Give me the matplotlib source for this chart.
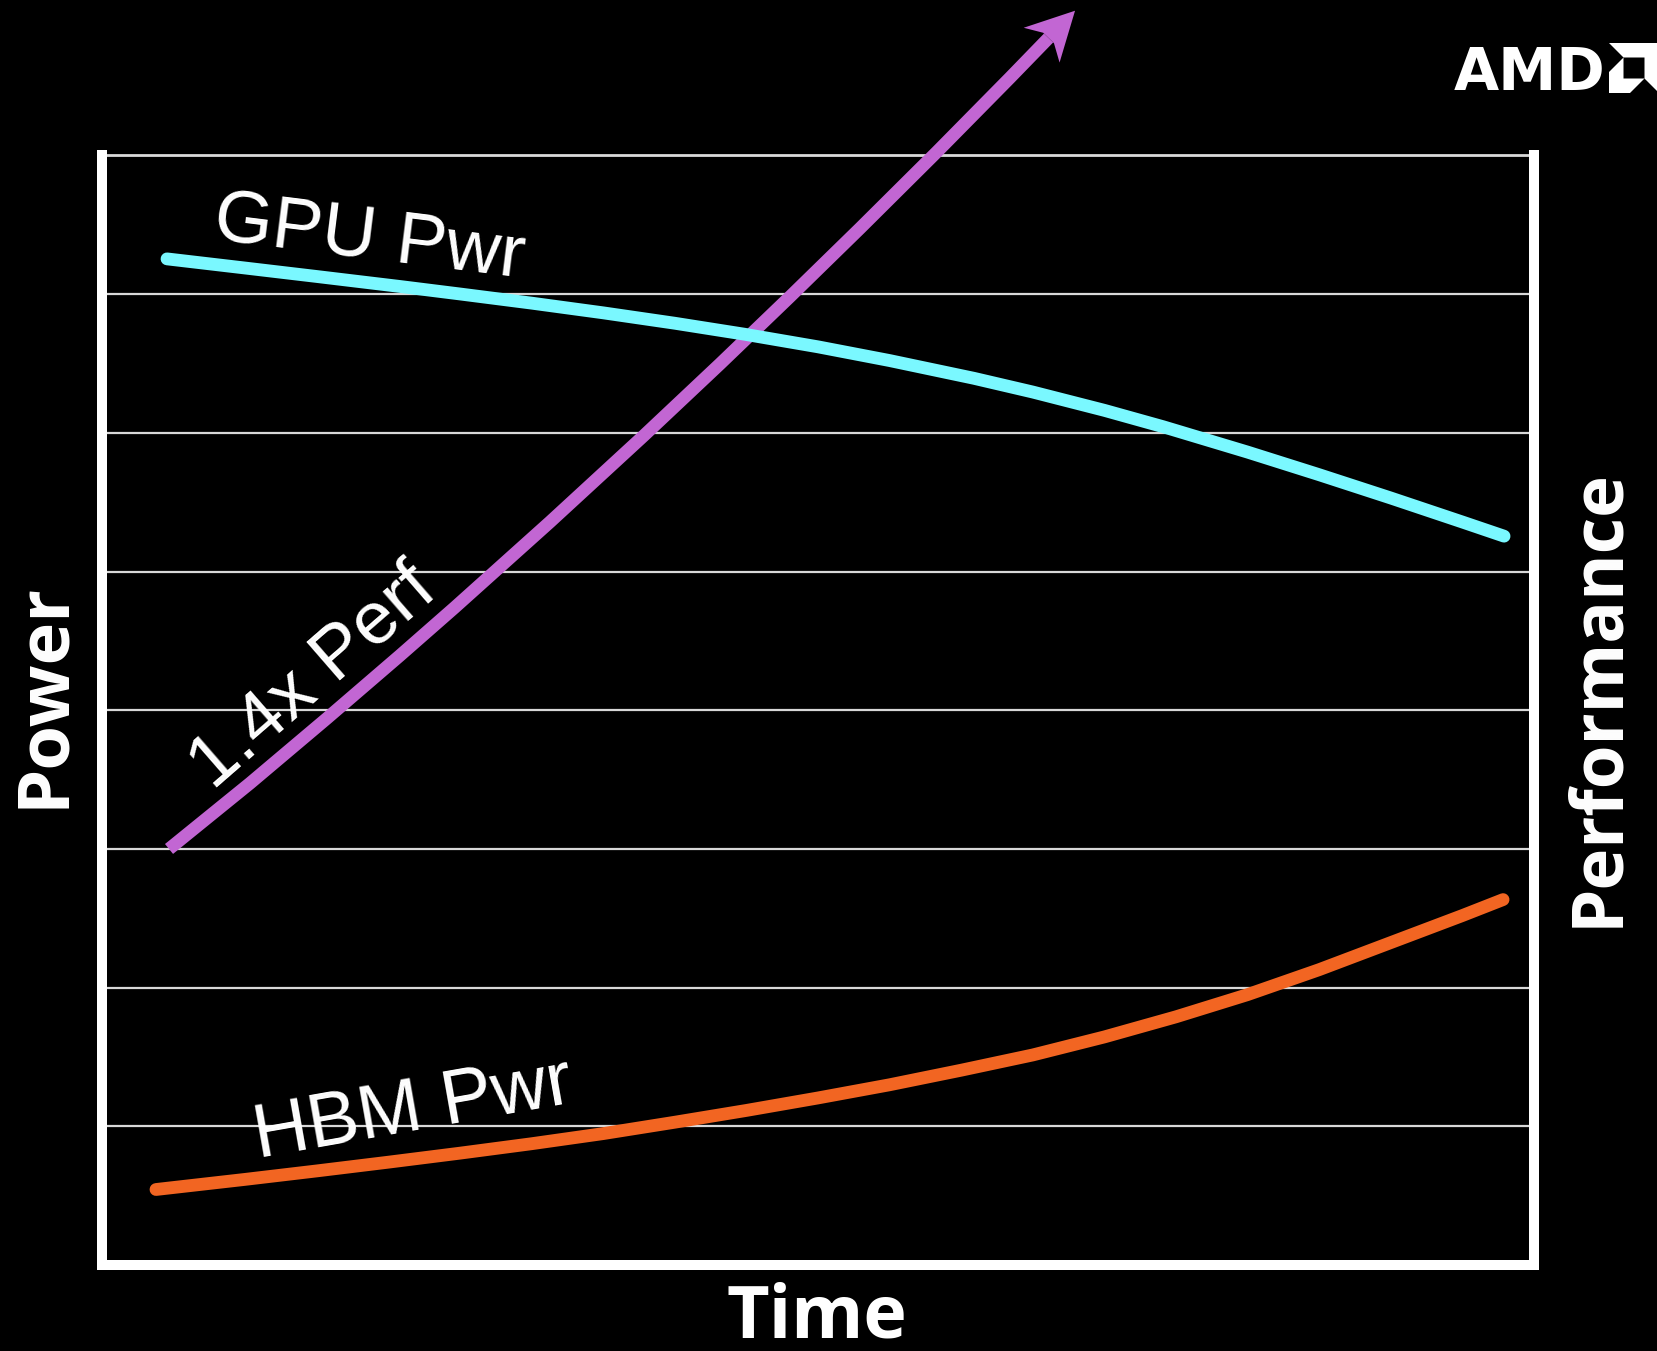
import numpy as np
import matplotlib
matplotlib.use("Agg")
import matplotlib.pyplot as plt
from matplotlib.patches import Polygon
from matplotlib.transforms import IdentityTransform

# ---- data (time on 0..100, power/performance on 0..8 grid units) ----
time_gpu = [4.54, 10, 15, 20.81, 25, 30, 35, 40, 44.86, 50, 55, 60.89,
            65, 70, 74.1, 80, 85, 90, 95, 97.91]
gpu_pwr = [7.254, 7.188, 7.127, 7.055, 7.001, 6.935, 6.865, 6.790, 6.711, 6.620,
           6.521, 6.393, 6.294, 6.162, 6.044, 5.861, 5.698, 5.530, 5.357, 5.255]

time_hbm = [3.77, 10, 15, 20, 25, 30, 35, 40, 45, 50, 55, 60,
            65, 70, 75, 80, 85, 90, 95, 97.84]
hbm_pwr = [0.545, 0.618, 0.679, 0.742, 0.807, 0.875, 0.948, 1.030, 1.115, 1.205,
           1.300, 1.405, 1.515, 1.645, 1.790, 1.950, 2.130, 2.325, 2.520, 2.635]

time_perf = [4.68, 10.34, 15.71, 20.81, 24.62, 31.28, 37.85, 43.16, 48.04,
             52.93, 58.31, 63.41, 67.95]
perf = [3.0, 3.474, 3.942, 4.395, 4.740, 5.357, 5.981, 6.497, 6.981,
        7.474, 8.026, 8.560, 9.043]

grid_levels = list(range(0, 9))

CYAN = "#7AF8FF"
PURPLE = "#C266D3"
ORANGE = "#F26522"
GRID = "#D8D8D8"

W, H = 1658, 1351
fig = plt.figure(figsize=(W / 100, H / 100), dpi=100, facecolor="black")

ax = fig.add_axes([102 / W, 1 - 1265.1 / H, 1432 / W, 1109.7 / H])
ax.set_facecolor("black")
ax.set_xlim(0, 100)
ax.set_ylim(0, 8)
ax.set_yticks(grid_levels)
ax.set_xticks([])
ax.tick_params(left=False, labelleft=False, bottom=False, labelbottom=False)
for y in grid_levels[1:]:
    ax.axhline(y, color=GRID, lw=1.6, zorder=1)

for side in ("left", "right", "bottom"):
    ax.spines[side].set_color("white")
    ax.spines[side].set_linewidth(7.2)
    ax.spines[side].set_zorder(6)
ax.spines["top"].set_color(GRID)
ax.spines["top"].set_linewidth(2.0)

LW = 9.2

# performance arrow: shaft + notched head built in pixel space at the tip
trans = ax.transData
pts = trans.transform(np.column_stack([time_perf, perf]))
tip, prev = pts[-1], pts[-2]
d = tip - prev
d = d / np.linalg.norm(d)
nrm = np.array([-d[1], d[0]])
head_len, head_half, notch_len, notch_half = 48, 25, 38, 7.5
shaft_end = trans.inverted().transform(tip - d * notch_len)
ax.plot(list(time_perf[:-1]) + [shaft_end[0]], list(perf[:-1]) + [shaft_end[1]],
        color=PURPLE, lw=LW, solid_capstyle="butt", solid_joinstyle="round",
        clip_on=False, zorder=3)
head = np.array([
    tip,
    tip - d * head_len + nrm * head_half,
    tip - d * notch_len + nrm * notch_half,
    tip - d * notch_len - nrm * notch_half,
    tip - d * head_len - nrm * head_half,
])
fig.add_artist(Polygon(head, closed=True, transform=IdentityTransform(),
                       facecolor=PURPLE, edgecolor="none", zorder=3))

ax.plot(time_gpu, gpu_pwr, color=CYAN, lw=LW, solid_capstyle="round",
        solid_joinstyle="round", zorder=4)
ax.plot(time_hbm, hbm_pwr, color=ORANGE, lw=LW, solid_capstyle="round",
        solid_joinstyle="round", zorder=4)

lab = dict(color="white", family="Liberation Sans",
           ha="left", va="baseline", rotation_mode="anchor", zorder=7)
ax.text(7.7, 7.40, "GPU Pwr", rotation=-7.1, fontsize=54, **lab)
ax.text(10.9, 0.77, "HBM Pwr", rotation=10, fontsize=55, **lab)
ax.text(7.7, 3.42, "1.4x Perf", rotation=41, fontsize=54, **lab)

axlab = dict(color="white", family="Open Sans", fontweight="bold",
             ha="center", va="baseline", rotation_mode="anchor")
fig.text(63 / W, 1 - 695 / H, "Power", rotation=90, fontsize=52, **axlab)
fig.text(1617 / W, 1 - 698 / H, "Performance", rotation=90, fontsize=51, **axlab)
fig.text(817 / W, 1 - 1337 / H, "Time", fontsize=53, **axlab)

# corporate mark, top right
fig.text(1529.5 / W, 1 - 90 / H, "AMD", color="white", fontsize=42,
         family="DejaVu Sans", fontweight="bold", ha="center", va="baseline")
lax = fig.add_axes([1609 / W, 1 - 93 / H, 50 / W, 50 / H])
lax.set_xlim(0, 1)
lax.set_ylim(1, 0)
lax.axis("off")
outer = [(0, 0), (1, 0), (1, 1), (0.71, 0.71), (0.71, 0.29), (0.29, 0.29)]
inner = [(0, 0.58), (0.29, 0.29), (0.29, 0.71), (0.71, 0.71), (0.42, 1.0), (0, 1.0)]
for shape in (outer, inner):
    lax.add_patch(Polygon(shape, closed=True, facecolor="white", edgecolor="none"))

fig.savefig("out.png", dpi=100, facecolor="black")
